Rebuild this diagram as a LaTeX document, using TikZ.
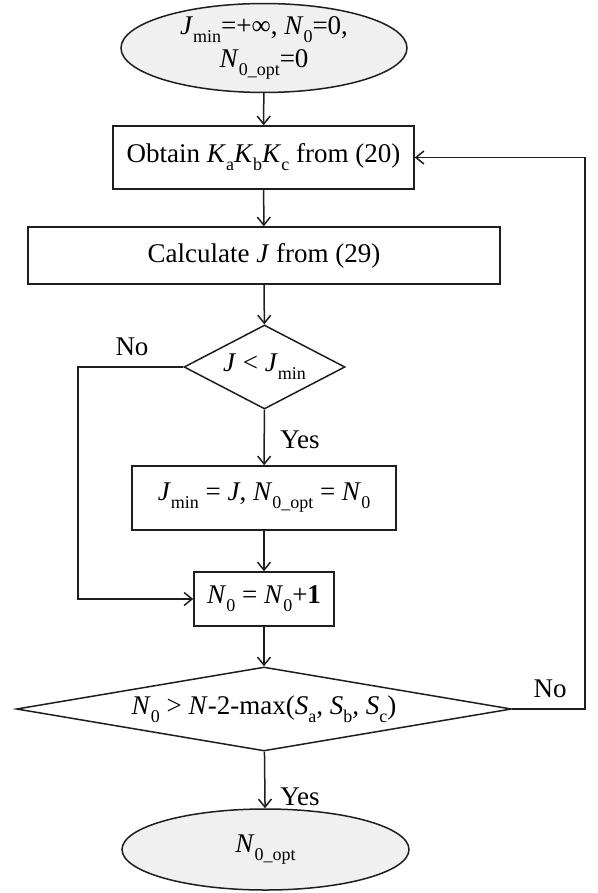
\documentclass[tikz,border=0pt]{standalone}
\usepackage{fontspec}
\setmainfont{Liberation Serif}
\usetikzlibrary{shapes.geometric,arrows.meta}
\newcommand\lo[1]{\raisebox{-0.3em}{\fontsize{18}{18}\selectfont #1}}
\newcommand\iv[1]{\textit{#1}}
\definecolor{lnc}{HTML}{1E1E1E}
\definecolor{termfill}{HTML}{F0F0F0}
\tikzset{
  base/.style={font=\fontsize{27}{30}\selectfont, line width=1.5pt, draw=lnc, text=black},
  procbox/.style={base, rectangle, inner sep=0pt},
  term/.style={base, ellipse, fill=termfill, inner sep=0pt, align=center},
  decide/.style={base, diamond, inner sep=0pt},
  arr/.style={line width=1.5pt, draw=lnc, -{Straight Barb[length=8pt,width=13pt]}},
  lbl/.style={font=\fontsize{27}{30}\selectfont, inner sep=0pt}
}
\begin{document}
\begin{tikzpicture}[x=1pt,y=-1pt]
\useasboundingbox (0,0) rectangle (597,893);
% nodes
\node[term, minimum width=286, minimum height=81] (start) at (264,48)
  {\iv{J}\lo{min}=+∞, \iv{N}\lo{0}=0,\\[3pt]\iv{N}\lo{0\_opt}=0};
\node[procbox, minimum width=301, minimum height=63] (b1) at (263.5,157.5)
  {Obtain \iv{K}\lo{a}\iv{K}\lo{b}\iv{K}\lo{c} from (20)};
\node[procbox, minimum width=472, minimum height=57] (b2) at (264,255.5)
  {Calculate \iv{J} from (29)};
\node[decide, minimum width=161, minimum height=84, aspect=1.92] (d1) at (264.5,367)
  {\iv{J} < \iv{J}\lo{min}};
\node[procbox, minimum width=264, minimum height=64] (b3) at (264,498)
  {\iv{J}\lo{min} = \iv{J}, \iv{N}\lo{0\_opt} = \iv{N}\lo{0}};
\node[procbox, minimum width=140, minimum height=54] (b4) at (264,599)
  {\iv{N}\lo{0} = \iv{N}\lo{0}+\textbf{1}};
\node[decide, minimum width=495, minimum height=84, aspect=5.9] (d2) at (264,709)
  {\iv{N}\lo{0} > \iv{N}-2-max(\iv{S}\lo{a}, \iv{S}\lo{b}, \iv{S}\lo{c})};
\node[term, minimum width=287, minimum height=81] (end) at (265.5,849.5)
  {\iv{N}\lo{0\_opt}};
% labels
\node[lbl] (no1) at (132,347) {No};
\node[lbl] (yes1) at (300,440) {Yes};
\node[lbl] (no2) at (550,689) {No};
\node[lbl] (yes2) at (300,797) {Yes};
% loop corners
\coordinate (lc) at (78,367);
\coordinate (rc) at (585,709);
% connectors
\draw[arr] (start) -- (b1);
\draw[arr] (b1) -- (b2);
\draw[arr] (b2) -- (d1);
\draw[arr] (d1) -- (b3);
\draw[arr] (b3) -- (b4);
\draw[arr] (b4) -- (d2);
\draw[arr] (d2) -- (end);
\draw[arr] (d1.west) -- (lc) |- (b4.west);
\draw[arr] (d2.east) -- (rc) |- (b1.east);
\end{tikzpicture}
\end{document}
